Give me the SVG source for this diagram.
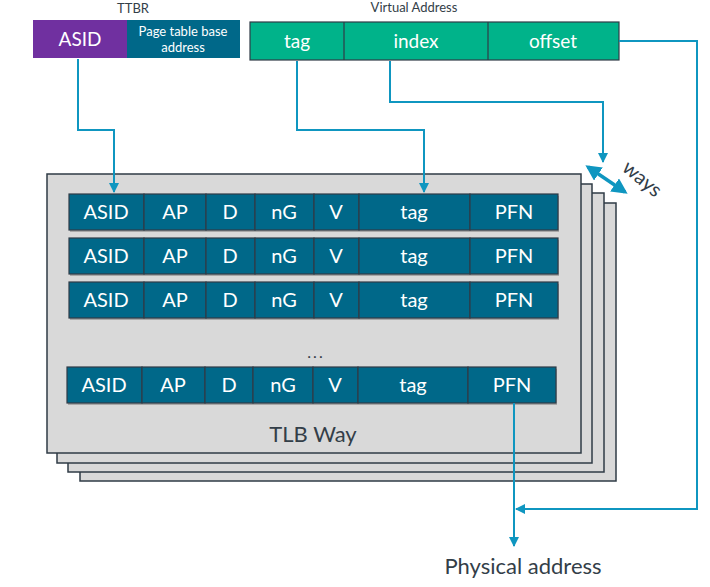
<svg xmlns="http://www.w3.org/2000/svg" width="710" height="587" viewBox="0 0 710 587">
<style>
text{font-family:Lato,"Noto Sans","Liberation Sans",sans-serif;}
.way{fill:#d9d9d9;stroke:#2f3b46;stroke-width:1.5;}
.cell{fill:#006889;stroke:#2f3b46;stroke-width:1.2;}
.shadow{fill:#a8a8a8;}
.ct{fill:#ffffff;font-size:20px;text-anchor:middle;}
.gt{fill:#ffffff;font-size:19px;text-anchor:middle;}
.lbl{fill:#333e48;text-anchor:middle;}
.conn{fill:none;stroke:#0f96c0;stroke-width:2;}
</style>
<defs>
<marker id="ah" viewBox="0 0 10 10" refX="9" refY="5" markerWidth="5" markerHeight="5" orient="auto-start-reverse" markerUnits="strokeWidth">
<path d="M0,0 L10,5 L0,10 Z" fill="#0f96c0"/>
</marker>
<marker id="ah2" viewBox="0 0 10 10" refX="8" refY="5" markerWidth="4.5" markerHeight="4.5" orient="auto-start-reverse" markerUnits="strokeWidth">
<path d="M0,0 L10,5 L0,10 Z" fill="#0f96c0"/>
</marker>
</defs>

<g id="ttbr">
<text class="lbl" x="133" y="13" font-size="13">TTBR</text>
<rect x="33" y="20" width="94" height="38" fill="#7030a0"/>
<text class="gt" x="80" y="46">ASID</text>
<rect x="127" y="20" width="113" height="38" fill="#006889"/>
<text x="183" y="36" fill="#fff" font-size="13" text-anchor="middle">Page table base</text>
<text x="183" y="52" fill="#fff" font-size="13" text-anchor="middle">address</text>
</g>

<g id="virtual-address">
<text class="lbl" x="414" y="12" font-size="13">Virtual Address</text>
<rect x="250" y="22" width="369" height="38" fill="#00b38a" stroke="#2f3b46" stroke-width="1.2"/>
<line x1="344" y1="22" x2="344" y2="60" stroke="#2f3b46" stroke-width="1.2"/>
<line x1="488" y1="22" x2="488" y2="60" stroke="#2f3b46" stroke-width="1.2"/>
<text class="gt" x="297" y="48">tag</text>
<text class="gt" x="416" y="48">index</text>
<text class="gt" x="553" y="48">offset</text>
</g>

<g id="tlb-ways">
<rect class="way" x="80" y="203" width="536" height="278"/>
<rect class="way" x="68" y="193" width="536" height="279"/>
<rect class="way" x="57" y="184" width="535" height="279"/>
<rect class="way" x="47" y="174" width="534" height="279"/>
<text class="lbl" x="313" y="442" font-size="22">TLB Way</text>
<text class="lbl" x="316" y="358" font-size="16" letter-spacing="2">...</text>
</g>

<g id="row1">
<rect class="shadow" x="70" y="196" width="489" height="36"/>
<rect class="cell" x="69" y="194" width="75" height="36"/>
<rect class="cell" x="144" y="194" width="62" height="36"/>
<rect class="cell" x="206" y="194" width="49" height="36"/>
<rect class="cell" x="255" y="194" width="59" height="36"/>
<rect class="cell" x="314" y="194" width="45" height="36"/>
<rect class="cell" x="359" y="194" width="111" height="36"/>
<rect class="cell" x="470" y="194" width="88" height="36"/>
<text class="ct" x="106" y="219">ASID</text><text class="ct" x="175" y="219">AP</text><text class="ct" x="230" y="219">D</text><text class="ct" x="284" y="219">nG</text><text class="ct" x="336" y="219">V</text><text class="ct" x="414" y="219">tag</text><text class="ct" x="514" y="219">PFN</text>
</g>

<g id="row2">
<rect class="shadow" x="70" y="240" width="489" height="36"/>
<rect class="cell" x="69" y="238" width="75" height="36"/>
<rect class="cell" x="144" y="238" width="62" height="36"/>
<rect class="cell" x="206" y="238" width="49" height="36"/>
<rect class="cell" x="255" y="238" width="59" height="36"/>
<rect class="cell" x="314" y="238" width="45" height="36"/>
<rect class="cell" x="359" y="238" width="111" height="36"/>
<rect class="cell" x="470" y="238" width="88" height="36"/>
<text class="ct" x="106" y="263">ASID</text><text class="ct" x="175" y="263">AP</text><text class="ct" x="230" y="263">D</text><text class="ct" x="284" y="263">nG</text><text class="ct" x="336" y="263">V</text><text class="ct" x="414" y="263">tag</text><text class="ct" x="514" y="263">PFN</text>
</g>

<g id="row3">
<rect class="shadow" x="70" y="284" width="489" height="36"/>
<rect class="cell" x="69" y="282" width="75" height="36"/>
<rect class="cell" x="144" y="282" width="62" height="36"/>
<rect class="cell" x="206" y="282" width="49" height="36"/>
<rect class="cell" x="255" y="282" width="59" height="36"/>
<rect class="cell" x="314" y="282" width="45" height="36"/>
<rect class="cell" x="359" y="282" width="111" height="36"/>
<rect class="cell" x="470" y="282" width="88" height="36"/>
<text class="ct" x="106" y="307">ASID</text><text class="ct" x="175" y="307">AP</text><text class="ct" x="230" y="307">D</text><text class="ct" x="284" y="307">nG</text><text class="ct" x="336" y="307">V</text><text class="ct" x="414" y="307">tag</text><text class="ct" x="514" y="307">PFN</text>
</g>

<g id="row4">
<rect class="shadow" x="68" y="369" width="489" height="36"/>
<rect class="cell" x="67" y="367" width="75" height="36"/>
<rect class="cell" x="142" y="367" width="63" height="36"/>
<rect class="cell" x="205" y="367" width="48" height="36"/>
<rect class="cell" x="253" y="367" width="60" height="36"/>
<rect class="cell" x="313" y="367" width="45" height="36"/>
<rect class="cell" x="358" y="367" width="110" height="36"/>
<rect class="cell" x="468" y="367" width="88" height="36"/>
<text class="ct" x="104" y="392">ASID</text><text class="ct" x="173" y="392">AP</text><text class="ct" x="229" y="392">D</text><text class="ct" x="283" y="392">nG</text><text class="ct" x="335" y="392">V</text><text class="ct" x="413" y="392">tag</text><text class="ct" x="512" y="392">PFN</text>
</g>

<g id="ways-label">
<text class="lbl" x="0" y="0" font-size="20" transform="translate(638,184) rotate(40)">ways</text>
</g>

<g id="physical-address">
<text class="lbl" x="523" y="574" font-size="22">Physical address</text>
</g>

<g id="connectors">
<polyline class="conn" points="78,59 78,130 114,130 114,192" marker-end="url(#ah)"/>
<polyline class="conn" points="297,61 297,130 424,130 424,192" marker-end="url(#ah)"/>
<polyline class="conn" points="390,61 390,102 603,102 603,162" marker-end="url(#ah)"/>
<line class="conn" x1="588" y1="167" x2="625" y2="192" style="stroke-width:3.5" marker-start="url(#ah2)" marker-end="url(#ah2)"/>
<polyline class="conn" points="619,41 697,41 697,509 516,509" marker-end="url(#ah)"/>
<polyline class="conn" points="514,403 514,546" marker-end="url(#ah)"/>
</g>
</svg>
